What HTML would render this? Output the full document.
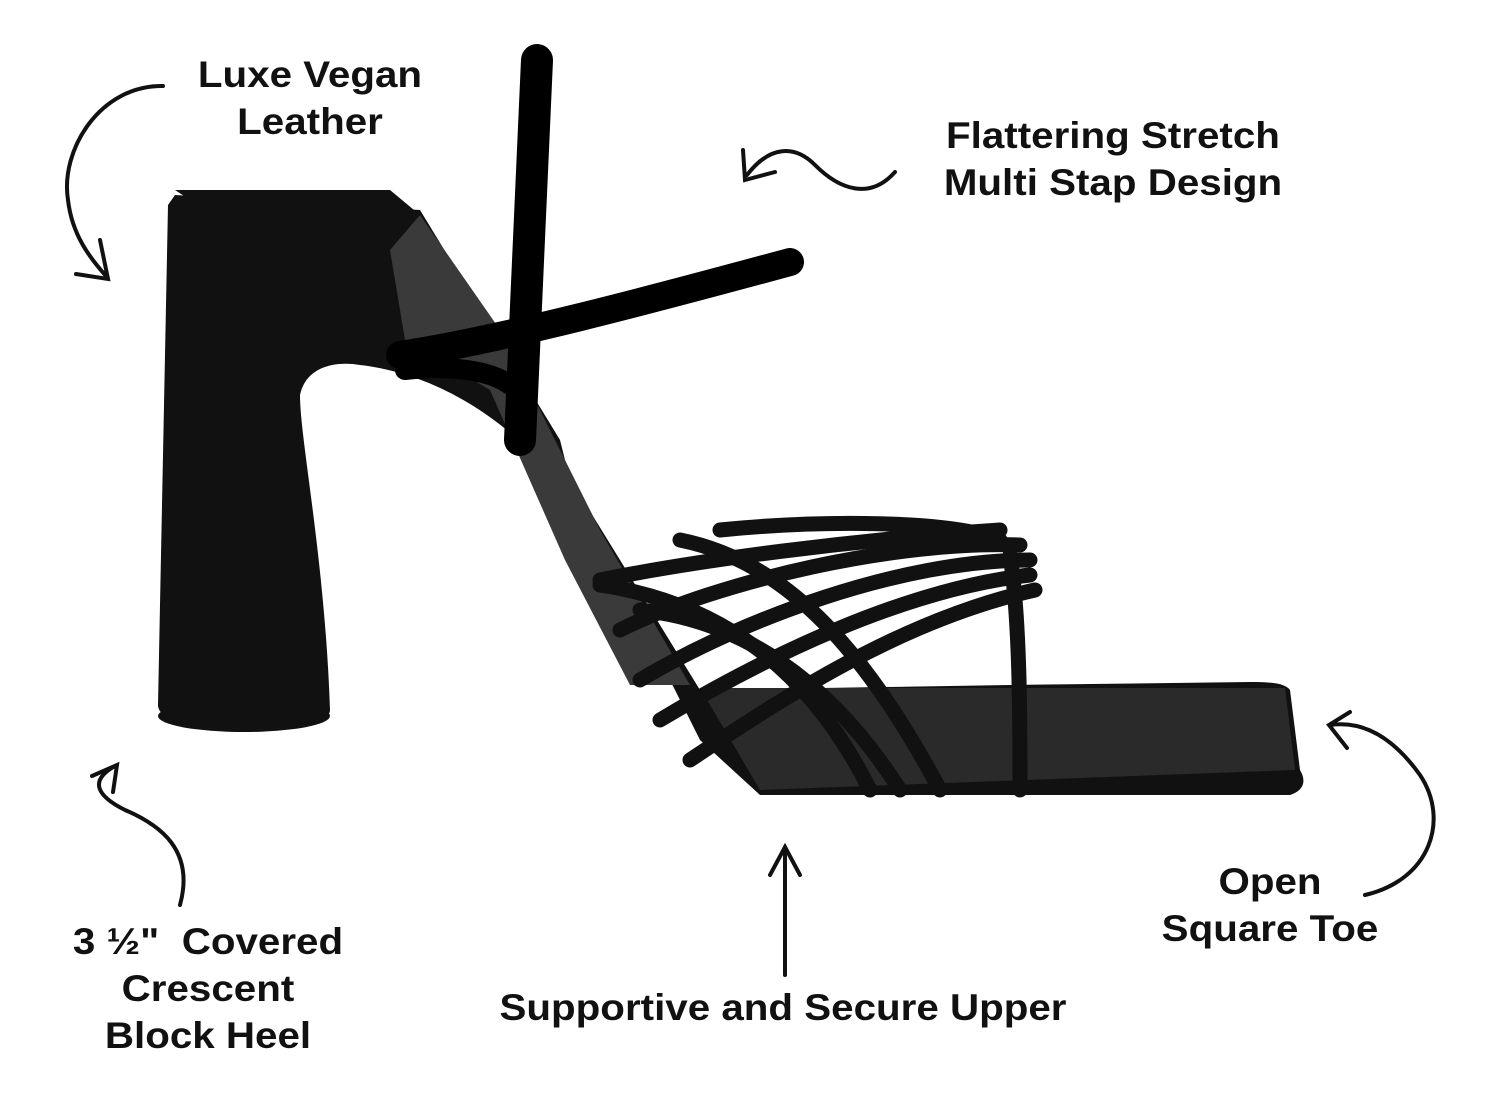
<!DOCTYPE html>
<html><head><meta charset="utf-8"><style>
html,body{margin:0;padding:0;background:#fff}
body{width:1500px;height:1098px;position:relative;overflow:hidden;font-family:"Liberation Sans",sans-serif}
.t{position:absolute;font-weight:bold;font-size:37px;color:#111;text-align:center;line-height:47px;white-space:nowrap;transform:translateX(-50%) scaleX(1.09)}
svg{position:absolute;left:0;top:0}
</style></head><body>
<svg width="1500" height="1098" viewBox="0 0 1500 1098">
<g fill="none" stroke="#111" stroke-width="4" stroke-linecap="round">
<path d="M163 86 C100 85 60 150 68 200 C72 235 90 258 106 276"/>
<path d="M76 274 L108 279 L100 240"/>
<path d="M895 172 C870 200 840 190 815 165 C795 145 770 145 747 175"/>
<path d="M743 150 L745 180 L775 172"/>
<path d="M180 905 C195 850 160 825 125 810 C95 795 90 780 115 766"/>
<path d="M92 776 L117 765 L113 792"/>
<path d="M785 975 L785 850"/>
<path d="M770 875 L785 847 L800 875"/>
<path d="M1365 895 C1430 880 1450 820 1420 775 C1395 740 1365 720 1330 725"/>
<path d="M1350 712 L1329 725 L1347 748"/>
</g>
<g fill="#111">
<path d="M175 190 L390 190 L420 215 L500 330 L560 450 L620 580 L700 740 L760 795 L1290 795 C1305 790 1306 780 1300 770 L1290 690 C1285 683 1270 682 1250 682 L1010 685 L700 690 L540 430 Z"/>
<path d="M175 195 L168 205 L158 705 C158 722 200 730 245 730 C300 730 330 722 330 710 C325 560 300 440 300 395 C305 370 330 360 360 365 C450 375 540 440 580 520 L560 440 L420 210 Z"/>
<ellipse cx="244" cy="716" rx="86" ry="16"/>
</g>
<path d="M420 215 L500 330 L600 530 L690 685 L630 685 L565 560 L490 390 L405 340 L390 250 Z" fill="#3a3a3a"/>
<path d="M700 688 L1285 688 L1295 770 L760 790 Z" fill="#2a2a2a"/>
<g stroke="#000" stroke-linecap="round" fill="none">
<path d="M537 60 L520 440" stroke-width="32"/>
<path d="M400 355 C500 340 650 300 790 262" stroke-width="28"/>
<path d="M405 370 C450 365 490 370 510 385" stroke-width="20"/>
</g>
<g fill="none" stroke="#111" stroke-width="15" stroke-linecap="round">
<path d="M600 580 C700 560 850 540 1000 530"/>
<path d="M620 630 C720 580 900 540 1020 545"/>
<path d="M640 680 C740 620 900 560 1030 560"/>
<path d="M660 720 C760 660 900 590 1030 575"/>
<path d="M690 760 C780 700 900 620 1035 590"/>
<path d="M600 585 C700 600 800 650 870 790"/>
<path d="M640 610 C740 620 830 680 900 790"/>
<path d="M680 540 C780 560 860 640 940 790"/>
<path d="M1010 555 C1020 620 1020 720 1020 790"/>
<path d="M720 530 C820 520 950 520 1000 540"/>
</g>
</svg>
<div class="t" style="left:310px;top:51px">Luxe Vegan<br>Leather</div>
<div class="t" style="left:1113px;top:112px">Flattering Stretch<br>Multi Stap Design</div>
<div class="t" style="left:208px;top:918px">3 ½"&nbsp; Covered<br>Crescent<br>Block Heel</div>
<div class="t" style="left:783px;top:984px">Supportive and Secure Upper</div>
<div class="t" style="left:1270px;top:858px">Open<br>Square Toe</div>
</body></html>
